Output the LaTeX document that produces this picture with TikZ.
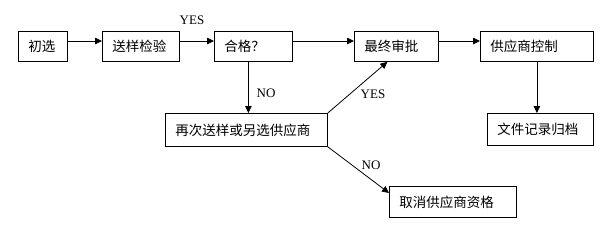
\documentclass[tikz,border=0pt]{standalone}
\usepackage{fontspec}
\setmainfont{Liberation Serif}
\newfontfamily\cjk{Noto Sans CJK SC}
\usetikzlibrary{arrows.meta}
\begin{document}
\begin{tikzpicture}[x=1bp,y=-1bp,
  box/.style={draw, line width=0.8bp, rectangle, anchor=north west, inner xsep=10bp, inner ysep=0bp,
    minimum height=30bp, align=left, font=\cjk\fontsize{13.5bp}{16bp}\selectfont},
  arr/.style={line width=0.8bp, -{Triangle[length=7bp,width=6.5bp]}},
  lbl/.style={font=\fontsize{13bp}{15bp}\selectfont, inner sep=0bp}]
\useasboundingbox (0,0) rectangle (613,237);
\node[box, text width=29bp] (cx) at (18,31) {初选};
\node[box, text width=57bp] (sy) at (102,31) {送样检验};
\node[box, text width=58bp] (hg) at (214,31) {合格？};
\node[box, text width=64bp] (zz) at (354,31) {最终审批};
\node[box, text width=93bp] (gy) at (480,31) {供应商控制};
\node[box, text width=86bp, minimum height=32bp] (wj) at (487,113) {文件记录归档};
\node[box, text width=142bp, minimum height=33bp] (zc) at (165,113) {再次送样或另选供应商};
\node[box, text width=107bp, minimum height=31bp] (qx) at (389,186) {取消供应商资格};
\draw[arr] ([yshift=-10bp]cx.north east) -- ([yshift=-10bp]sy.north west);
\draw[arr] ([yshift=-10bp]sy.north east) -- ([yshift=-10bp]hg.north west);
\draw[arr] ([yshift=-10bp]hg.north east) -- ([yshift=-10bp]zz.north west);
\draw[arr] ([yshift=-10bp]zz.north east) -- ([yshift=-10bp]gy.north west);
\draw[arr] ([xshift=-5bp]hg.south) -- ([xshift=-5bp]hg.south |- zc.north);
\draw[arr] (zc.north east) -- ([xshift=-9bp]zz.south);
\draw[arr] (zc.south east) -- ([yshift=-7bp]qx.north west);
\draw[arr] (gy.south) -- (gy.south |- wj.north);
\node[lbl] (l1) at (192,20) {YES};
\node[lbl] (l2) at (266,93) {NO};
\node[lbl] (l3) at (373,94) {YES};
\node[lbl] (l4) at (371,165) {NO};
\end{tikzpicture}
\end{document}
